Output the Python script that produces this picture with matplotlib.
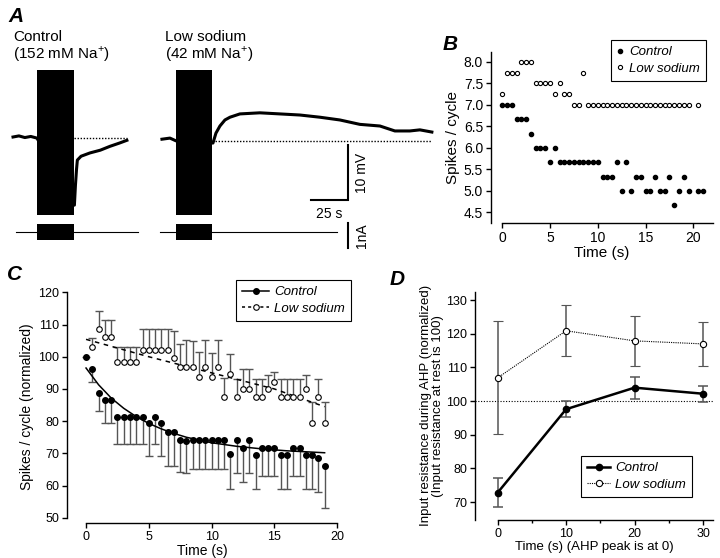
import matplotlib
matplotlib.use("Agg")
import matplotlib.pyplot as plt
from matplotlib.lines import Line2D

plt.rcParams["font.family"] = ["Liberation Sans", "DejaVu Sans"]
plt.rcParams["mathtext.fontset"] = "custom"
plt.rcParams["mathtext.rm"] = "Liberation Sans"
plt.rcParams["axes.linewidth"] = 1.0

W, H = 720, 558

# ---------------- A: recordings (s, mV from rest, nA) ----------------
ctrl_t = [0, 4, 8, 12, 16.2, 41.5, 42.2, 42.9, 43.5, 46.0, 52.0, 59.0, 65.5, 72.0, 77.0]
ctrl_v = [0.2, 0.4, 0.1, 0.3, 0.0, -12.2, -8.6, -5.8, -4.0, -3.3, -2.7, -2.2, -1.5, -0.9, -0.4]
ctrl_burst = [16.2, 41.2]

low_t = [0, 5.4, 9.5, 34.5, 36.5, 39.2, 42.6, 46.0, 52.7, 66.2, 79.8, 93.3, 106.8,
         120.3, 133.8, 147.4, 157.5, 167.6, 174.4, 182.5]
low_v = [-0.2, 0.0, -0.5, -0.9, 0.9, 2.2, 3.3, 3.8, 4.4, 4.6, 4.4, 4.2, 3.8,
         3.3, 2.5, 2.2, 1.3, 1.3, 1.5, 1.1]
low_burst = [9.5, 33.8]
low_rest = -0.5
low_start = 100.7

burst_range = [-14.0, 12.4]
ctrl_i_span = [2.0, 84.5]
low_i_span = [-1.4, 118.3]
i_burst = [-0.35, 0.30]

# ---------------- B: spikes per cycle ----------------
b_ctrl_t = [0, 0.5, 1, 1.5, 2, 2.5, 3, 3.5, 4, 4.5, 5, 5.5, 6, 6.5, 7, 7.5, 8, 8.5, 9, 9.5,
            10, 10.5, 11, 11.5, 12, 12.5, 13, 13.5, 14, 14.5, 15, 15.5, 16, 16.5, 17, 17.5,
            18, 18.5, 19, 19.5, 20.5, 21]
b_ctrl = [7.0, 7.0, 7.0, 6.67, 6.67, 6.67, 6.33, 6.0, 6.0, 6.0, 5.67, 6.0, 5.67, 5.67, 5.67,
          5.67, 5.67, 5.67, 5.67, 5.67, 5.67, 5.33, 5.33, 5.33, 5.67, 5.0, 5.67, 5.0, 5.33,
          5.33, 5.0, 5.0, 5.33, 5.0, 5.0, 5.33, 4.67, 5.0, 5.33, 5.0, 5.0, 5.0]
b_low_t = [0, 0.5, 1, 1.5, 2, 2.5, 3, 3.5, 4, 4.5, 5, 5.5, 6, 6.5, 7, 7.5, 8, 8.5, 9, 9.5,
           10, 10.5, 11, 11.5, 12, 12.5, 13, 13.5, 14, 14.5, 15, 15.5, 16, 16.5, 17, 17.5,
           18, 18.5, 19, 19.5, 20.5]
b_low = [7.25, 7.75, 7.75, 7.75, 8.0, 8.0, 8.0, 7.5, 7.5, 7.5, 7.5, 7.25, 7.5, 7.25, 7.25,
         7.0, 7.0, 7.75, 7.0, 7.0, 7.0, 7.0, 7.0, 7.0, 7.0, 7.0, 7.0, 7.0, 7.0, 7.0, 7.0,
         7.0, 7.0, 7.0, 7.0, 7.0, 7.0, 7.0, 7.0, 7.0, 7.0]

# ---------------- C: normalized spikes per cycle ----------------
c_ctrl_t = [0, 0.5, 1, 1.5, 2, 2.5, 3, 3.5, 4, 4.5, 5, 5.5, 6, 6.5, 7, 7.5, 8, 8.5, 9, 9.5,
            10, 10.5, 11, 11.5, 12, 12.5, 13, 13.5, 14, 14.5, 15, 15.5, 16, 16.5, 17, 17.5,
            18, 18.5, 19]
c_ctrl = [100.0, 96.1, 88.8, 86.7, 86.7, 81.4, 81.4, 81.4, 81.4, 81.4, 79.3, 81.4, 79.3,
          76.5, 76.5, 74.3, 73.9, 74.3, 74.3, 74.3, 74.3, 74.3, 74.3, 69.7, 74.1, 71.6,
          74.1, 69.4, 71.6, 71.6, 71.6, 69.4, 69.4, 71.6, 71.6, 69.4, 69.4, 68.6, 66.1]
c_ctrl_err = [0, 3.9, 5.6, 7.2, 7.2, 8.5, 8.5, 8.5, 8.5, 8.5, 10.1, 8.4, 10.1, 10.4, 10.4,
              10.1, 9.9, 9.3, 9.3, 9.3, 9.3, 9.3, 9.3, 10.6, 10.3, 10.4, 10.3, 10.3, 8.7,
              8.7, 8.7, 10.3, 10.3, 8.7, 8.7, 10.3, 10.3, 10.5, 12.9]
c_low_t = [0.5, 1, 1.5, 2, 2.5, 3, 3.5, 4, 4.5, 5, 5.5, 6, 6.5, 7, 7.5, 8, 8.5, 9, 9.5,
           10, 10.5, 11, 11.5, 12, 12.5, 13, 13.5, 14, 14.5, 15, 15.5, 16, 16.5, 17, 17.5,
           18, 18.5, 19]
c_low = [103.0, 108.7, 106.0, 106.0, 98.3, 98.3, 98.3, 98.3, 102.1, 102.1, 102.1, 102.1,
         102.1, 99.6, 96.7, 96.7, 96.7, 93.8, 96.7, 93.8, 96.7, 87.6, 94.5, 87.6, 89.9,
         89.9, 87.6, 87.6, 89.9, 92.2, 87.6, 87.6, 87.6, 87.6, 89.9, 79.5, 87.6, 79.5]
c_low_err = [2.7, 5.6, 5.4, 5.4, 4.6, 4.6, 4.6, 4.6, 6.5, 6.5, 6.5, 6.5, 6.5, 8.4, 7.4,
             8.5, 8.1, 7.7, 8.5, 7.4, 8.5, 5.7, 6.3, 5.4, 6.2, 6.2, 5.4, 5.4, 4.5, 3.1,
             5.4, 5.4, 5.4, 5.4, 4.5, 6.5, 5.4, 6.5]
# fitted curves
fit_ctrl_t = [0, 1, 2, 3, 4, 5, 6, 7, 8, 10, 12, 14, 16, 19]
fit_ctrl = [96.5, 91.3, 87.2, 84.0, 81.4, 79.3, 77.6, 76.2, 75.0, 73.3, 72.2, 71.4, 70.8, 70.2]
fit_low_t = [0, 5, 10, 15, 19]
fit_low = [105.4, 100.0, 95.0, 90.0, 84.5]

# ---------------- D: input resistance ----------------
d_t = [0, 10, 20, 30]
d_ctrl = [72.8, 97.6, 104.0, 102.2]
d_ctrl_err = [4.3, 2.3, 3.3, 2.4]
d_low = [106.9, 120.9, 117.9, 117.0]
d_low_err = [16.8, 7.6, 7.4, 6.5]


def caja(x0, y0, x1, y1):
    # pixel box -> figure fraction
    return [x0 / W, 1 - y1 / H, (x1 - x0) / W, (y1 - y0) / H]


def ejes(ax):
    ax.spines["top"].set_visible(False)
    ax.spines["right"].set_visible(False)
    ax.tick_params(direction="out", length=3.5, width=1, labelsize=9, pad=2)


def leyenda(ax, handles, labels, x1, y0, hl):
    leg = ax.legend(handles, labels, loc="upper right", bbox_to_anchor=(x1 / W, 1 - y0 / H),
                    bbox_transform=fig.transFigure, fancybox=False, edgecolor="k",
                    prop={"style": "italic", "size": 9.5}, handlelength=hl,
                    handletextpad=0.4, borderpad=0.45, labelspacing=0.35, borderaxespad=0,
                    framealpha=1)
    leg.get_frame().set_linewidth(0.8)


fig = plt.figure(figsize=(7.2, 5.58), dpi=100)

# ---- A ----
axv = fig.add_axes(caja(0, 65, 440, 220))
axv.set_xlim(-8.8, 288.7)
axv.set_ylim(-14.9, 13.3)
axv.axis("off")
axv.fill_between(ctrl_burst, burst_range[0], burst_range[1], color="k", lw=0)
axv.plot(ctrl_t, ctrl_v, color="k", lw=2.2)
axv.plot([ctrl_burst[1], ctrl_t[-1]], [0, 0], color="k", lw=1, ls=(0, (1, 1.2)))
low_x = [t + low_start for t in low_t]
axv.fill_between([low_burst[0] + low_start, low_burst[1] + low_start],
                 burst_range[0], burst_range[1], color="k", lw=0)
axv.plot(low_x, low_v, color="k", lw=2.2)
axv.plot([low_burst[1] + low_start, low_x[-1]], [low_rest, low_rest], color="k",
         lw=1, ls=(0, (1, 1.2)))
sx, sy = 226.5, -11.3
axv.plot([sx - 25, sx, sx], [sy, sy, sy + 10], color="k", lw=1.5, solid_joinstyle="miter")
axv.text(sx - 12.5, sy - 1.3, "25 s", ha="center", va="top", fontsize=10)
axv.text(sx + 4.5, sy + 5, "10 mV", rotation=90, ha="left", va="center", fontsize=10)

axi = fig.add_axes(caja(0, 220, 440, 252))
axi.set_xlim(-8.8, 288.7)
axi.set_ylim(-0.83, 0.48)
axi.axis("off")
axi.plot(ctrl_i_span, [0, 0], color="k", lw=0.8)
axi.fill_between(ctrl_burst, i_burst[0], i_burst[1], color="k", lw=0)
axi.plot([low_start + t for t in low_i_span], [0, 0], color="k", lw=0.8)
axi.fill_between([low_burst[0] + low_start, low_burst[1] + low_start],
                 i_burst[0], i_burst[1], color="k", lw=0)
axi.plot([sx, sx], [0.35, -0.65], color="k", lw=1.5)
axi.text(sx + 4.5, -0.15, "1nA", rotation=90, ha="left", va="center", fontsize=10)

fig.text(13 / W, 1 - 41 / H, "Control", fontsize=11, va="baseline")
fig.text(13 / W, 1 - 59 / H, r"(152 mM Na$^{+}$)", fontsize=11, va="baseline")
fig.text(165 / W, 1 - 41 / H, "Low sodium", fontsize=11, va="baseline")
fig.text(165 / W, 1 - 59 / H, r"(42 mM Na$^{+}$)", fontsize=11, va="baseline")

for letra, x, y in [("A", 8, 22), ("B", 443, 50), ("C", 7, 280), ("D", 390, 285)]:
    fig.text(x / W, 1 - y / H, letra, fontsize=15, fontweight="bold", fontstyle="italic",
             va="baseline")

# ---- B ----
axb = fig.add_axes(caja(490.7, 52, 713, 223))
ejes(axb)
axb.plot(b_ctrl_t, b_ctrl, "o", color="k", ms=3)
axb.plot(b_low_t, b_low, "o", mfc="white", mec="k", mew=0.8, ms=3)
axb.set_xlim(-1.21, 22.06)
axb.set_ylim(4.25, 8.23)
axb.spines["bottom"].set_bounds(0, 22.06)
axb.set_xticks([0, 5, 10, 15, 20])
axb.set_yticks([4.5, 5.0, 5.5, 6.0, 6.5, 7.0, 7.5, 8.0])
axb.tick_params(labelsize=10)
axb.set_xlabel("Time (s)", fontsize=11, labelpad=1)
axb.set_ylabel("Spikes / cycle", fontsize=11, labelpad=3)
h_b = [Line2D([], [], ls="none", color="k", marker="o", ms=3),
       Line2D([], [], ls="none", color="k", marker="o", mfc="white", mew=0.8, ms=3)]
leyenda(axb, h_b, ["Control", "Low sodium"], 705.7, 40, 0.5)

# ---- C ----
axc = fig.add_axes(caja(66.7, 290.7, 337.8, 523.3))
ejes(axc)
gris = "#555555"
eb = axc.errorbar(c_ctrl_t, c_ctrl, yerr=[c_ctrl_err, [0] * len(c_ctrl_err)], fmt="none",
                  ecolor=gris, elinewidth=1, capsize=3, capthick=1)
eb[1][1].set_visible(False)
eb = axc.errorbar(c_low_t, c_low, yerr=[[0] * len(c_low_err), c_low_err], fmt="none",
                  ecolor=gris, elinewidth=1, capsize=3, capthick=1)
eb[1][0].set_visible(False)
axc.plot(fit_ctrl_t, fit_ctrl, color="k", lw=1.1)
axc.plot(fit_low_t, fit_low, color="k", lw=1.1, ls=(0, (3, 3)))
axc.plot(c_ctrl_t, c_ctrl, "o", color="k", ms=4, zorder=4)
axc.plot(c_low_t, c_low, "o", mfc="white", mec="k", mew=0.8, ms=4, zorder=4)
axc.set_xlim(-1.54, 20.05)
axc.set_ylim(48.3, 120.5)
axc.spines["left"].set_bounds(50, 120)
axc.spines["bottom"].set_bounds(0, 20)
axc.set_xticks([0, 5, 10, 15, 20])
axc.set_yticks(range(50, 121, 10))
axc.set_xlabel("Time (s)", fontsize=10, labelpad=1)
axc.set_ylabel("Spikes / cycle (normalized)", fontsize=10, labelpad=3)
h_c = [Line2D([], [], color="k", lw=1.1, marker="o", ms=4),
       Line2D([], [], color="k", lw=1.1, ls=(0, (2, 2)), marker="o", mfc="white", ms=4,
              mew=0.8)]
leyenda(axc, h_c, ["Control", "Low sodium"], 350.7, 280, 2.0)

# ---- D ----
axd = fig.add_axes(caja(475, 291.7, 713.3, 520))
ejes(axd)
axd.axhline(100, color="k", lw=0.8, ls=(0, (1, 1.5)))
axd.errorbar(d_t, d_low, yerr=d_low_err, color="k", lw=0.8, ls=(0, (1, 1)), marker="o",
             mfc="white", mec="k", mew=0.8, ms=4.5, ecolor=gris, elinewidth=1.1,
             capsize=3.5, capthick=1.1)
axd.errorbar(d_t, d_ctrl, yerr=d_ctrl_err, color="k", lw=1.8, marker="o", ms=4.5,
             ecolor=gris, elinewidth=1.1, capsize=3.5, capthick=1.1)
axd.set_xlim(-3.3, 31.5)
axd.set_ylim(64.7, 132.5)
axd.spines["bottom"].set_bounds(0, 31.5)
axd.set_xticks([0, 10, 20, 30])
axd.set_xticks([5, 15, 25], minor=True)
axd.tick_params(which="minor", direction="out", length=2.5, width=1)
axd.set_yticks(range(70, 131, 10))
axd.set_xlabel("Time (s) (AHP peak is at 0)", fontsize=9.5, labelpad=1)
axd.set_ylabel("Input resistance during AHP (normalized)\n(Input resistance at rest is 100)",
               fontsize=9.5, labelpad=2, linespacing=1.0)
h_d = [Line2D([], [], color="k", lw=1.8, marker="o", ms=4.5),
       Line2D([], [], color="k", lw=0.8, ls=(0, (1, 1)), marker="o", mfc="white", ms=4.5,
              mew=0.8)]
leyenda(axd, h_d, ["Control", "Low sodium"], 691.7, 456, 1.7)

fig.savefig("out.png", dpi=100)
